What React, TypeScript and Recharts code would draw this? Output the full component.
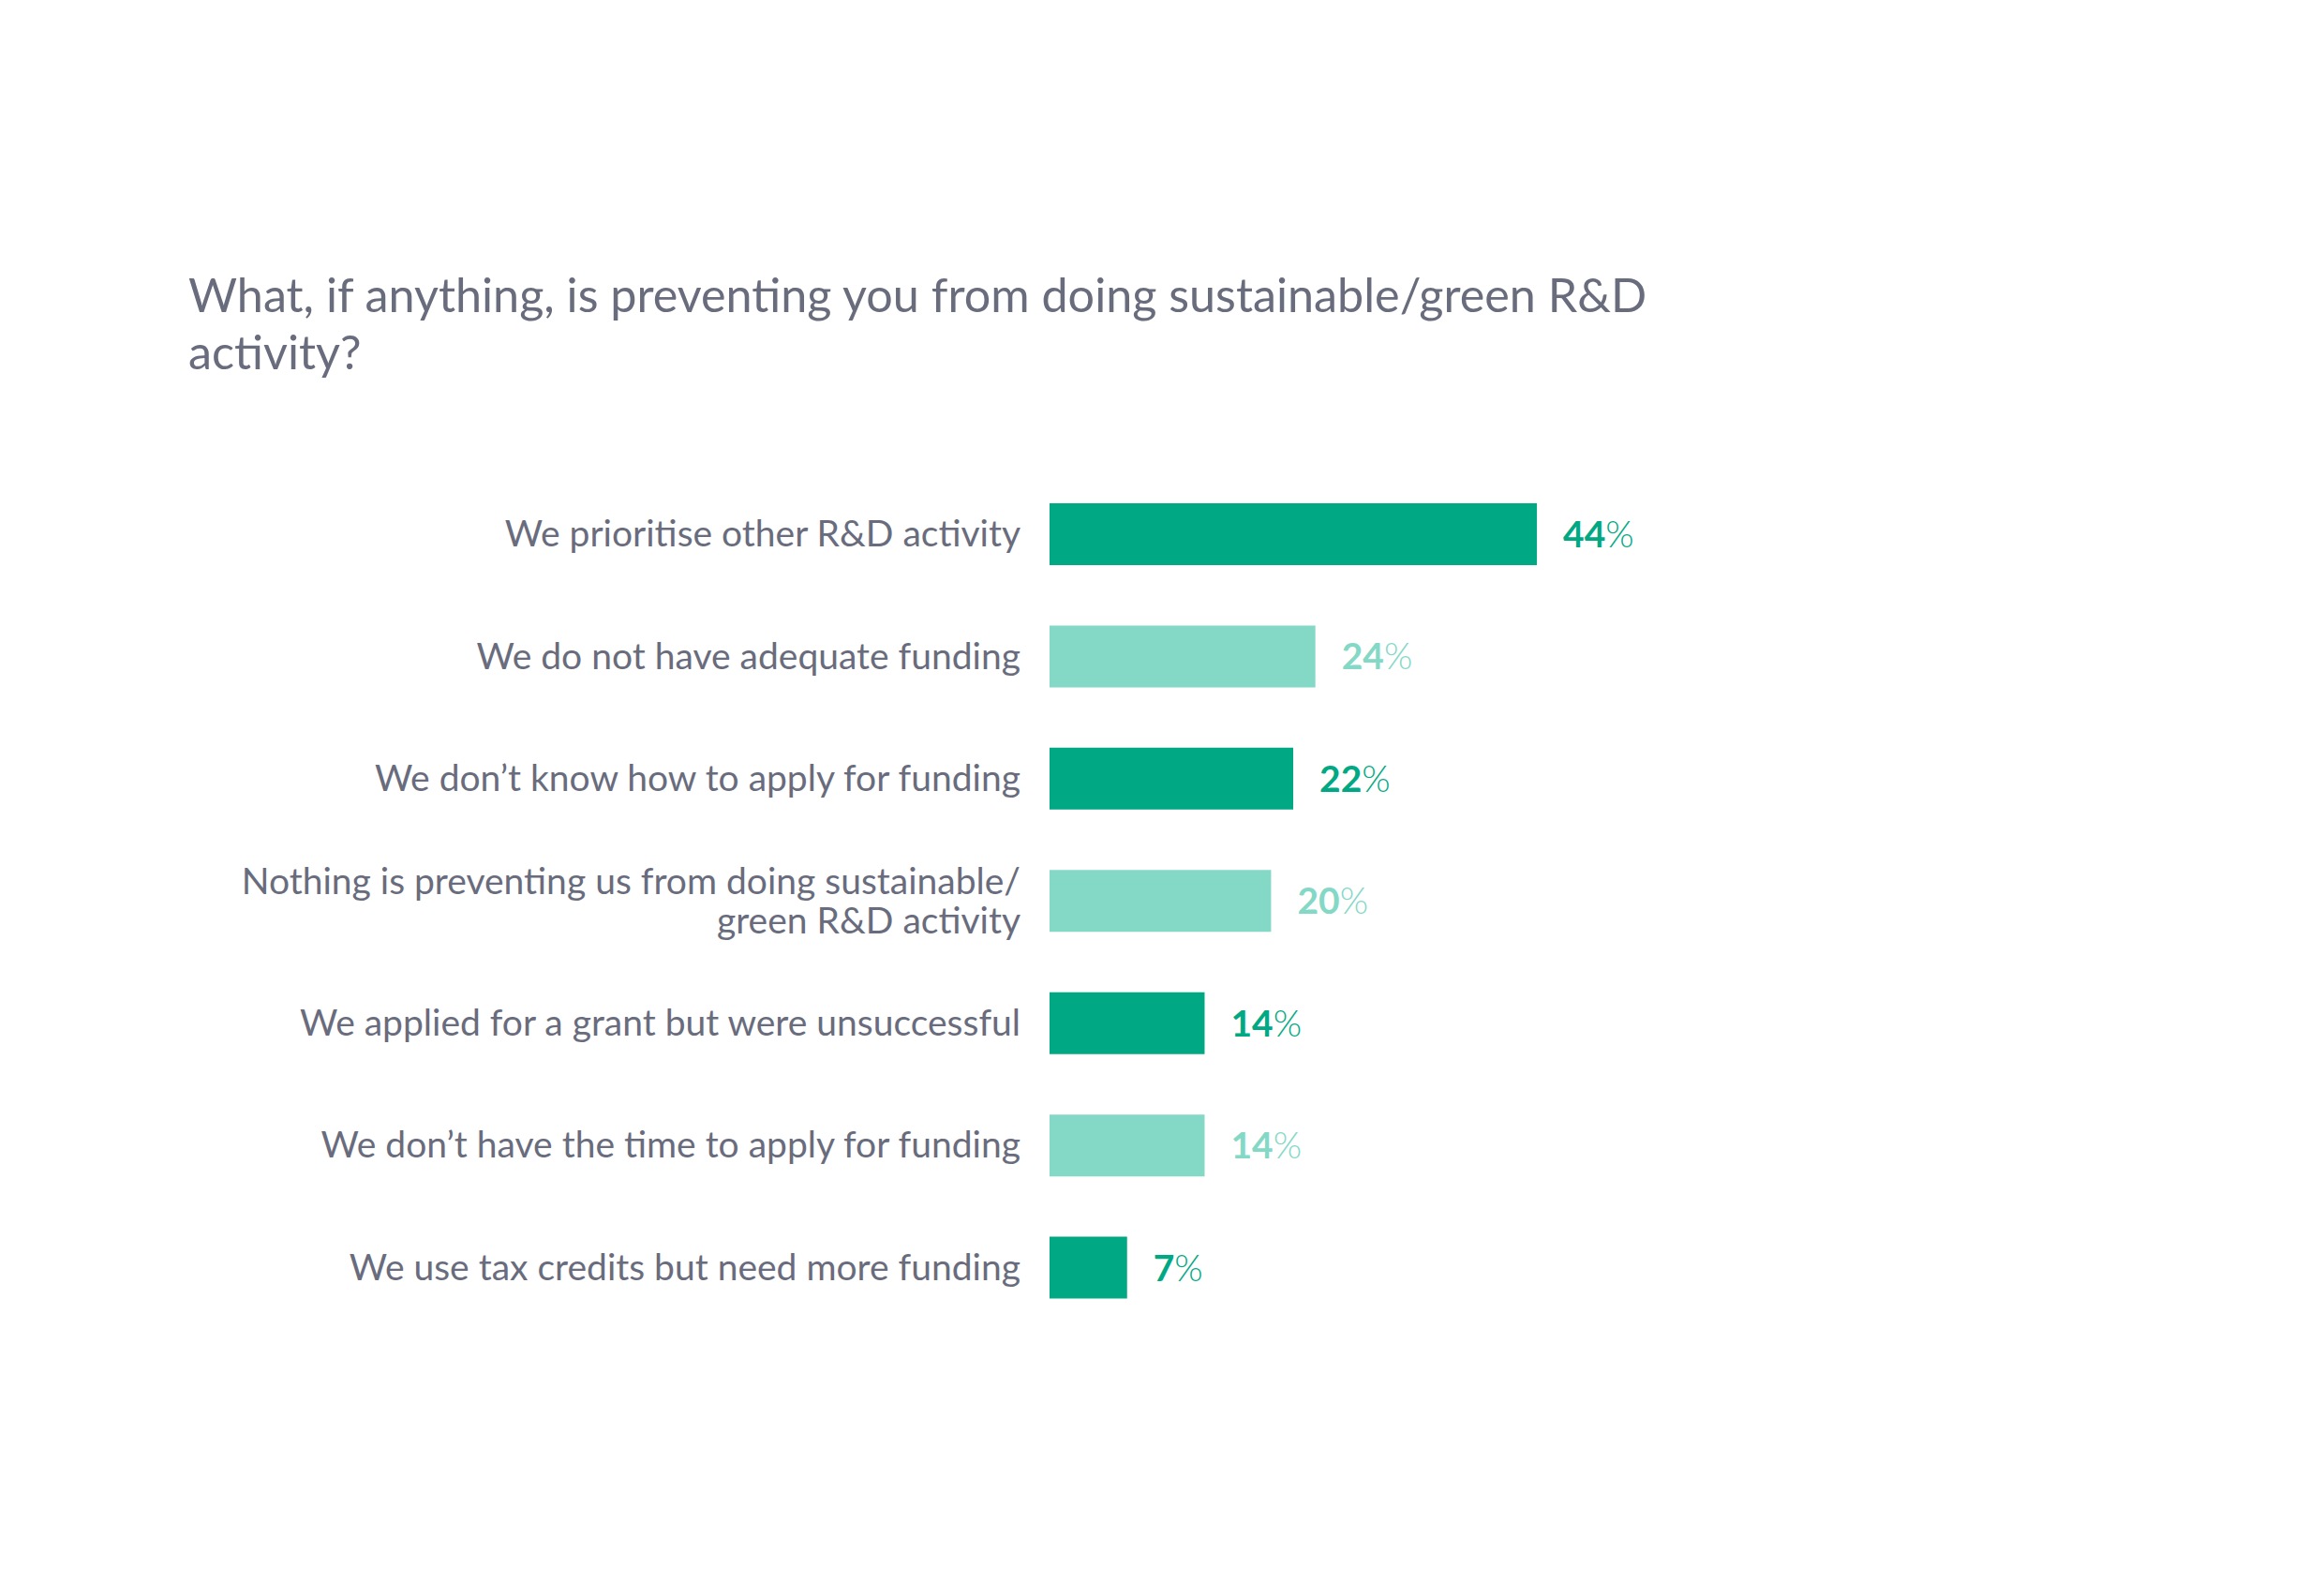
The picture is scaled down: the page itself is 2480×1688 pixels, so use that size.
import React from 'react';
import { BarChart, Bar, XAxis, YAxis, Cell, LabelList } from 'recharts';

const titleLines = [
  'What, if anything, is preventing you from doing sustainable/green R&D',
  'activity?',
];

const categories = [
  'We prioritise other R&D activity',
  'We do not have adequate funding',
  'We don\u2019t know how to apply for funding',
  'Nothing is preventing us from doing sustainable/\ngreen R&D activity',
  'We applied for a grant but were unsuccessful',
  'We don\u2019t have the time to apply for funding',
  'We use tax credits but need more funding',
];

const values = [44, 24, 22, 20, 14, 14, 7];

const barColors = ['#00A984', '#84D8C6', '#00A984', '#84D8C6', '#00A984', '#84D8C6', '#00A984'];

const data = categories.map((c, i) => ({ category: c, value: values[i], color: barColors[i] }));

const FONT = 'Lato, "Noto Sans", sans-serif';
const TEXT_GRAY = '#696C7D';

const CategoryTick = (props: any) => {
  const { x, y, payload } = props;
  const lines = String(payload.value).split('\n');
  const n = lines.length;
  const first = y + 13 - (n - 1) * 21;
  return (
    <text x={x} y={first} textAnchor="end" fill={TEXT_GRAY} fontFamily={FONT} fontSize={39}>
      {lines.map((l, i) => (
        <tspan key={i} x={x} y={first + i * 42}>
          {l}
        </tspan>
      ))}
    </text>
  );
};

const ValueLabel = (props: any) => {
  const { x, y, width, height, value, index } = props;
  const color = barColors[index] || '#00A984';
  return (
    <text
      x={x + width + 28}
      y={y + height / 2 + 14}
      fill={color}
      fontFamily={FONT}
      fontSize={39}
      textAnchor="start"
    >
      <tspan fontWeight={700}>{value}</tspan>
      <tspan fontWeight={300}>%</tspan>
    </text>
  );
};

export default function App() {
  return (
    <div
      style={{
        position: 'absolute',
        left: 0,
        top: 0,
        width: 2480,
        height: 1688,
        background: '#ffffff',
        overflow: 'hidden',
      }}
    >
      <div
        style={{
          position: 'absolute',
          left: 201,
          top: 283,
          fontFamily: FONT,
          fontSize: 50.3,
          lineHeight: '61px',
          color: TEXT_GRAY,
          whiteSpace: 'nowrap',
        }}
      >
        {titleLines.map((t, i) => (
          <div key={i}>{t}</div>
        ))}
      </div>
      <div style={{ position: 'absolute', left: 0, top: 0 }}>
        <BarChart
          width={2480}
          height={1688}
          data={data}
          layout="vertical"
          margin={{ top: 505, bottom: 270, left: 0, right: 178 }}
          barCategoryGap={0}
        >
          <XAxis type="number" domain={[0, 100]} hide />
          <YAxis
            type="category"
            dataKey="category"
            width={1120}
            tickLine={false}
            axisLine={false}
            tickSize={0}
            tickMargin={31}
            interval={0}
            tick={<CategoryTick />}
          />
          <Bar dataKey="value" barSize={66} isAnimationActive={false}>
            {data.map((d, i) => (
              <Cell key={i} fill={d.color} />
            ))}
            <LabelList dataKey="value" content={<ValueLabel />} />
          </Bar>
        </BarChart>
      </div>
    </div>
  );
}
